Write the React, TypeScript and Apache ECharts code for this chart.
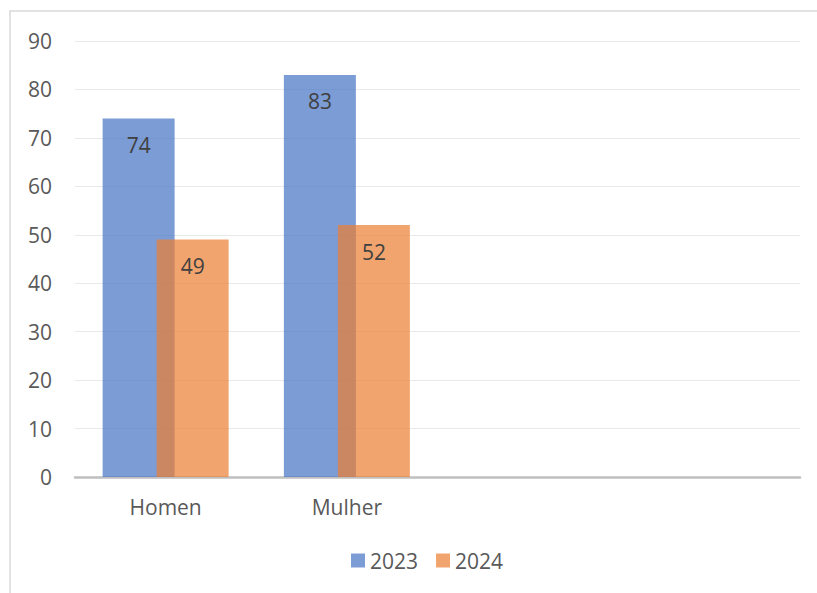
import React, { useEffect, useRef } from "react";
import * as echarts from "echarts";

const categories = ["Homen", "Mulher", "", " "];
const series2023 = [74, 83, null, null];
const series2024 = [49, 52, null, null];
const seriesNames = ["2023", "2024"];
const yTicks = { min: 0, max: 90, interval: 10 };

const FONT = "Open Sans";
const FS = 21;

export default function App() {
  const ref = useRef<HTMLDivElement>(null);
  useEffect(() => {
    if (!ref.current) return;
    const chart = echarts.init(ref.current, null, { renderer: "svg" });
    const label = {
      show: true,
      position: "insideTop" as const,
      distance: 16,
      color: "#404040",
      fontSize: FS,
      fontFamily: FONT,
    };
    chart.setOption({
      animation: false,
      backgroundColor: "#ffffff",
      textStyle: { fontFamily: FONT },
      graphic: [
        {
          type: "rect",
          shape: { x: 10, y: 11, width: 900, height: 700 },
          style: { fill: "none", stroke: "#d9d9d9", lineWidth: 1.5 },
          silent: true,
          z: -1,
        },
      ],
      grid: { left: 75, right: 17, top: 41, bottom: 116, containLabel: false },
      legend: {
        data: seriesNames,
        bottom: 17,
        left: 346,
        itemWidth: 14,
        itemHeight: 14,
        itemGap: 18,
        icon: "rect",
        textStyle: { color: "#595959", fontSize: FS, fontFamily: FONT },
      },
      xAxis: {
        type: "category",
        data: categories,
        axisLine: { show: true, lineStyle: { color: "#bfbfbf", width: 2.5 } },
        axisTick: { show: false },
        axisLabel: { color: "#595959", fontSize: FS, margin: 19, fontFamily: FONT },
        splitLine: { show: false },
      },
      yAxis: {
        type: "value",
        min: yTicks.min,
        max: yTicks.max,
        interval: yTicks.interval,
        axisLine: { show: false },
        axisTick: { show: false },
        axisLabel: { color: "#595959", fontSize: FS, margin: 23, fontFamily: FONT },
        splitLine: { show: true, lineStyle: { color: "#e9e9e9", width: 1 } },
      },
      series: [
        {
          name: seriesNames[0],
          type: "bar",
          data: series2023,
          barWidth: 72,
          barGap: "-25%",
          itemStyle: { color: "rgba(68,114,196,0.7)" },
          label,
        },
        {
          name: seriesNames[1],
          type: "bar",
          data: series2024,
          barWidth: 72,
          barGap: "-25%",
          itemStyle: { color: "rgba(237,125,49,0.7)" },
          label,
        },
      ],
    });
    return () => chart.dispose();
  }, []);
  return (
    <div
      ref={ref}
      style={{ position: "fixed", left: 0, top: 0, width: 817, height: 593 }}
    />
  );
}
